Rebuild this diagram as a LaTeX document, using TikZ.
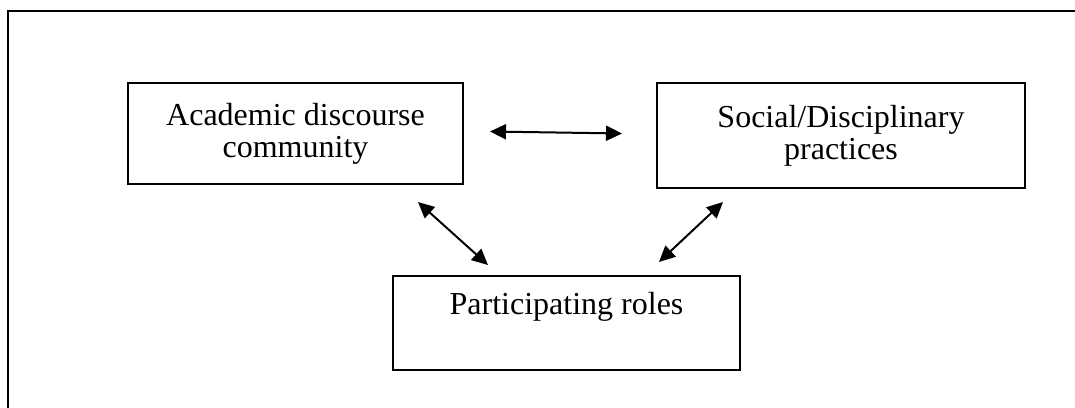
\documentclass[tikz,border=0pt]{standalone}
\usepackage{fontspec}
\setmainfont{Liberation Serif}
\usetikzlibrary{arrows.meta, positioning}

\begin{document}
\begin{tikzpicture}[>={Triangle[length=8pt, width=7.5pt]}, line width=1pt,
    block/.style={draw, align=center, inner sep=0pt, font=\fontsize{16}{16}\selectfont}]
        \useasboundingbox (0,0) rectangle (537.5pt,-203.5pt);
        \draw (4pt,-205pt) |- (540pt,-5.5pt);
        \node (acad) [block, minimum width=167.5pt, minimum height=50.5pt, anchor=north west] at (63.5pt,-41pt) {Academic discourse\\community};
        \node (soc) [block, minimum width=184pt, minimum height=52.5pt, right=96pt of acad.north east, anchor=north west] {Social/Disciplinary\\practices};
        \node (roles) [block, minimum width=173.5pt, text height=19.4pt, text depth=27.6pt, below right=45pt and 132.5pt of acad.south west] {Participating roles};
        \draw[<->] ([shift={(13pt,1pt)}]acad.east) -- ([shift={(-17pt,1pt)}]soc.west);
        \draw[<->] ([shift={(-23pt,-8.5pt)}]acad.south east) -- ([shift={(48pt,5pt)}]roles.north west);
        \draw[<->] ([shift={(33.5pt,-6.5pt)}]soc.south west) -- ([shift={(-41pt,6.5pt)}]roles.north east);
      \end{tikzpicture}
\end{document}
